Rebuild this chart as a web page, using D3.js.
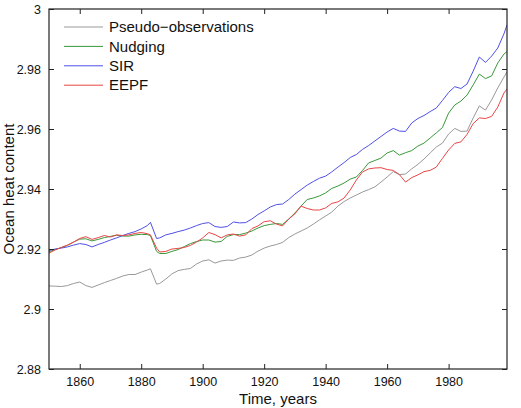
<!DOCTYPE html>
<html>
<head>
<meta charset="utf-8">
<script src="https://cdn.jsdelivr.net/npm/d3@7"></script>
<style>
  html, body { margin: 0; padding: 0; background: #fff; }
  svg { display: block; font-family: "Liberation Sans", Arial, Helvetica, sans-serif; }
</style>
</head>
<body>
<svg id="chart" width="521" height="408"></svg>
<script>
const years = [1850,1852,1854,1856,1858,1860,1862,1864,1866,1868,1870,1872,1874,1876,1878,1880,1882,1883,1885,1886,1888,1890,1892,1894,1896,1898,1900,1902,1904,1906,1908,1910,1912,1914,1916,1918,1920,1922,1924,1926,1928,1930,1932,1934,1936,1938,1940,1942,1944,1946,1948,1950,1952,1954,1956,1958,1960,1962,1964,1966,1968,1970,1972,1974,1976,1978,1980,1982,1984,1986,1988,1990,1992,1994,1996,1998,1999];

const pseudoObs = [2.9077,2.9076,2.9075,2.9078,2.9085,2.9090,2.9078,2.9072,2.9080,2.9088,2.9095,2.9102,2.9110,2.9115,2.9115,2.9123,2.9130,2.9134,2.9083,2.9085,2.9100,2.9117,2.9128,2.9132,2.9135,2.9150,2.9160,2.9164,2.9153,2.9160,2.9163,2.9162,2.9170,2.9173,2.9180,2.9193,2.9203,2.9210,2.9215,2.9222,2.9238,2.9250,2.9260,2.9270,2.9283,2.9297,2.9310,2.9323,2.9343,2.9358,2.9370,2.9380,2.9390,2.9398,2.9407,2.9423,2.9440,2.9458,2.9448,2.9450,2.9467,2.9482,2.9500,2.9520,2.9540,2.9553,2.9583,2.9602,2.9592,2.9593,2.9637,2.9677,2.9663,2.9697,2.9737,2.9773,2.9790];

const nudging = [2.9191,2.9198,2.9205,2.9212,2.9223,2.9233,2.9234,2.9227,2.9232,2.9238,2.9242,2.9246,2.9243,2.9243,2.9247,2.9249,2.9248,2.9245,2.9192,2.9185,2.9185,2.9192,2.9198,2.9208,2.9218,2.9225,2.9230,2.9230,2.9223,2.9225,2.9242,2.9248,2.9248,2.9253,2.9260,2.9270,2.9278,2.9282,2.9285,2.9282,2.9300,2.9320,2.9343,2.9365,2.9370,2.9377,2.9387,2.9402,2.9410,2.9420,2.9433,2.9440,2.9462,2.9487,2.9495,2.9503,2.9520,2.9528,2.9513,2.9521,2.9528,2.9543,2.9553,2.9570,2.9587,2.9605,2.9653,2.9680,2.9693,2.9713,2.9747,2.9783,2.9768,2.9777,2.9820,2.9850,2.9858];

const sir = [2.9195,2.9200,2.9203,2.9207,2.9213,2.9218,2.9215,2.9207,2.9215,2.9222,2.9230,2.9237,2.9245,2.9252,2.9258,2.9267,2.9278,2.9289,2.9235,2.9237,2.9247,2.9252,2.9258,2.9263,2.9270,2.9278,2.9285,2.9288,2.9275,2.9272,2.9275,2.9290,2.9287,2.9288,2.9300,2.9315,2.9327,2.9340,2.9348,2.9350,2.9365,2.9383,2.9398,2.9413,2.9425,2.9436,2.9443,2.9457,2.9473,2.9488,2.9505,2.9515,2.9532,2.9545,2.9560,2.9575,2.9590,2.9602,2.9593,2.9592,2.9620,2.9635,2.9645,2.9658,2.9670,2.9695,2.9722,2.9741,2.9735,2.9750,2.9793,2.9840,2.9822,2.9843,2.9870,2.9917,2.9947];

const eepf = [2.9186,2.9197,2.9205,2.9213,2.9223,2.9235,2.9241,2.9232,2.9238,2.9245,2.9240,2.9247,2.9245,2.9247,2.9252,2.9255,2.9251,2.9247,2.9203,2.9190,2.9192,2.9200,2.9202,2.9205,2.9212,2.9223,2.9237,2.9255,2.9248,2.9237,2.9247,2.9250,2.9243,2.9247,2.9268,2.9277,2.9291,2.9294,2.9283,2.9277,2.9300,2.9317,2.9343,2.9335,2.9330,2.9330,2.9337,2.9352,2.9357,2.9370,2.9397,2.9430,2.9457,2.9467,2.9470,2.9471,2.9465,2.9462,2.9448,2.9423,2.9438,2.9447,2.9458,2.9462,2.9473,2.9502,2.9530,2.9552,2.9557,2.9582,2.9618,2.9637,2.9635,2.9642,2.9673,2.9720,2.9733];

const seriesNames = ["Pseudo\u2212observations", "Nudging", "SIR", "EEPF"];
const seriesColors = ["#999999", "#3a983a", "#5050e6", "#e84646"];
const xTicks = [1860, 1880, 1900, 1920, 1940, 1960, 1980];
const yTicks = [2.88, 2.9, 2.92, 2.94, 2.96, 2.98, 3];
const xLabel = "Time, years";
const yLabel = "Ocean heat content";

const seriesValues = [pseudoObs, nudging, sir, eepf];

const svg = d3.select("#chart");
const m = { left: 49, top: 9, right: 507, bottom: 369 };
const x = d3.scaleLinear().domain([1850, 1999]).range([m.left, m.right]);
const y = d3.scaleLinear().domain([2.88, 3]).range([m.bottom, m.top]);

svg.append("rect").attr("width", 521).attr("height", 408).attr("fill", "#fff");

const clip = svg.append("clipPath").attr("id", "clip").append("rect")
  .attr("x", m.left).attr("y", m.top).attr("width", m.right - m.left).attr("height", m.bottom - m.top);

const line = d3.line().x((d, i) => x(years[i])).y(d => y(d));
seriesValues.forEach((vals, k) => {
  svg.append("path")
    .attr("d", line(vals))
    .attr("fill", "none")
    .attr("stroke", seriesColors[k])
    .attr("stroke-width", 1)
    .attr("clip-path", "url(#clip)");
});

const tickLen = 5;
const fmtY = d => d3.format("")(+d.toFixed(2));
const axisColor = "#222";

const gB = svg.append("g").attr("transform", `translate(0,${m.bottom})`)
  .call(d3.axisBottom(x).tickValues(xTicks).tickSize(-tickLen).tickPadding(8.5).tickFormat(d3.format("d")));
const gT = svg.append("g").attr("transform", `translate(0,${m.top})`)
  .call(d3.axisTop(x).tickValues(xTicks).tickSize(-tickLen).tickFormat(""));
const gL = svg.append("g").attr("transform", `translate(${m.left},0)`)
  .call(d3.axisLeft(y).tickValues(yTicks).tickSize(-tickLen).tickPadding(8).tickFormat(fmtY));
const gR = svg.append("g").attr("transform", `translate(${m.right},0)`)
  .call(d3.axisRight(y).tickValues(yTicks).tickSize(-tickLen).tickFormat(""));

[gB, gT, gL, gR].forEach(g => {
  g.select(".domain").remove();
  g.selectAll(".tick line").attr("stroke", axisColor).attr("stroke-width", 1);
  g.selectAll(".tick text").attr("fill", "#111").style("font-size", "12.5px")
    .style("font-family", '"Liberation Sans", Arial, sans-serif');
});

svg.append("rect")
  .attr("x", m.left).attr("y", m.top)
  .attr("width", m.right - m.left).attr("height", m.bottom - m.top)
  .attr("fill", "none").attr("stroke", axisColor).attr("stroke-width", 1.2);

svg.append("text")
  .attr("x", (m.left + m.right) / 2).attr("y", 403.5)
  .attr("text-anchor", "middle").style("font-size", "15px").attr("fill", "#111")
  .text(xLabel);
svg.append("text")
  .attr("transform", `translate(13.5,${(m.top + m.bottom) / 2}) rotate(-90)`)
  .attr("text-anchor", "middle").style("font-size", "15px").attr("fill", "#111")
  .text(yLabel);

const legend = svg.append("g");
seriesNames.forEach((name, k) => {
  const ly = 27 + k * 19.4;
  legend.append("line").attr("x1", 64).attr("x2", 103).attr("y1", ly).attr("y2", ly)
    .attr("stroke", seriesColors[k]).attr("stroke-width", 1);
  legend.append("text").attr("x", 109).attr("y", ly).attr("dy", "0.35em")
    .style("font-size", "15px").attr("fill", "#111").text(name);
});
</script>
</body>
</html>
